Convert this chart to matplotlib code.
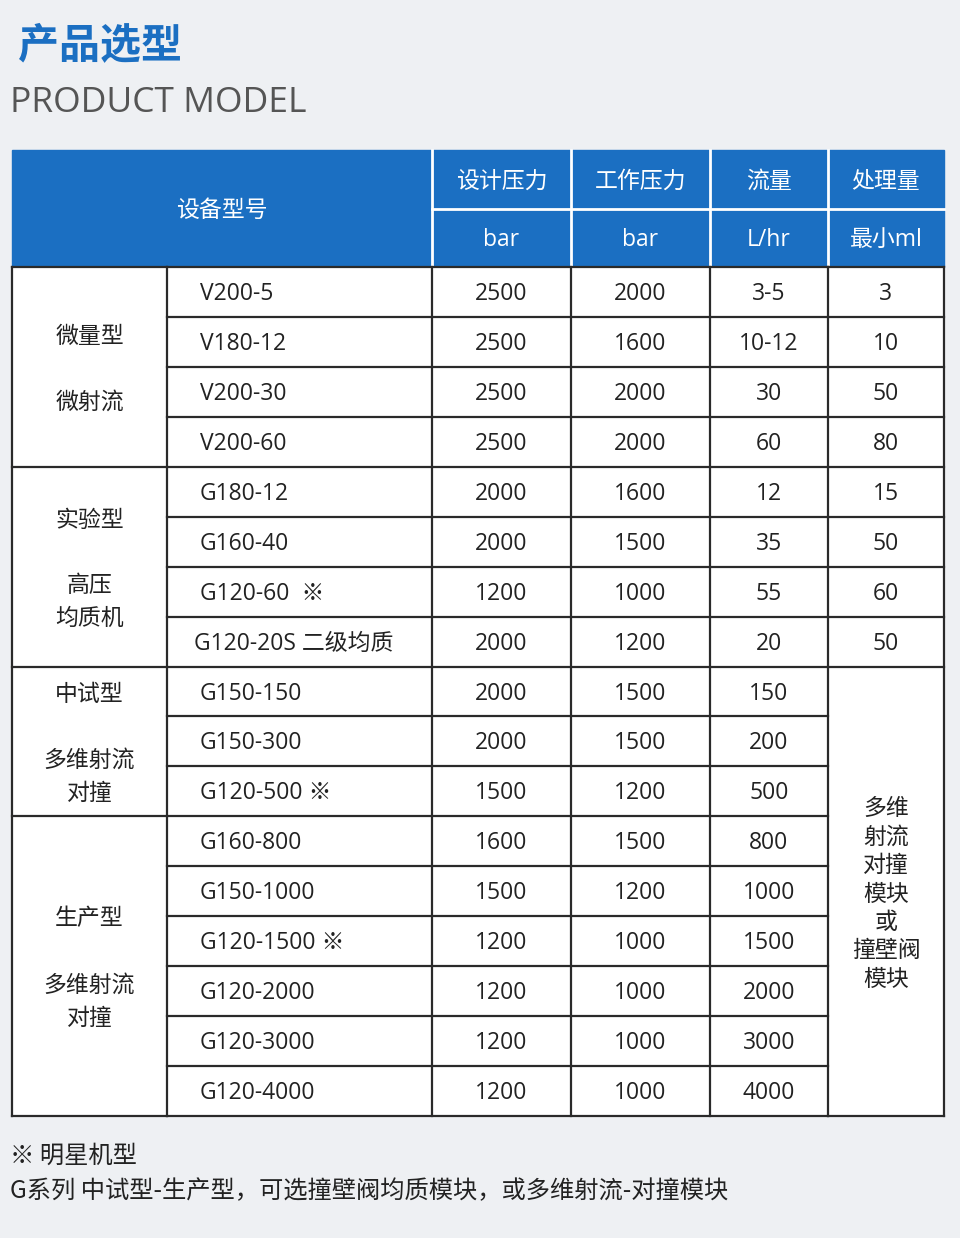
import matplotlib.pyplot as plt
from matplotlib.patches import Rectangle

plt.rcParams['font.family'] = ['Noto Sans CJK SC', 'DejaVu Sans']
LAT = ['Open Sans', 'Noto Sans CJK SC', 'DejaVu Sans']

models = ["V200-5", "V180-12", "V200-30", "V200-60",
          "G180-12", "G160-40", "G120-60  ※", "G120-20S 二级均质",
          "G150-150", "G150-300", "G120-500 ※",
          "G160-800", "G150-1000", "G120-1500 ※", "G120-2000", "G120-3000", "G120-4000"]
design_p = [2500, 2500, 2500, 2500, 2000, 2000, 1200, 2000, 2000, 2000, 1500,
            1600, 1500, 1200, 1200, 1200, 1200]
work_p = [2000, 1600, 2000, 2000, 1600, 1500, 1000, 1200, 1500, 1500, 1200,
          1500, 1200, 1000, 1000, 1000, 1000]
flow = ["3-5", "10-12", "30", "60", "12", "35", "55", "20", "150", "200", "500",
        "800", "1000", "1500", "2000", "3000", "4000"]
capacity = ["3", "10", "50", "80", "15", "50", "60", "50"]
capacity_merged = "多维\n射流\n对撞\n模块\n或\n撞壁阀\n模块"
# (first row, last row, label lines with y offsets in px)
groups = [(0, 3, [("微量型", 334), ("微射流", 400)]),
          (4, 7, [("实验型", 518), ("高压", 583), ("均质机", 616)]),
          (8, 10, [("中试型", 692), ("多维射流", 758), ("对撞", 791)]),
          (11, 16, [("生产型", 917), ("多维射流", 983), ("对撞", 1016)])]
header_top = ["设计压力", "工作压力", "流量", "处理量"]
header_bot = ["bar", "bar", "L/hr", "最小ml"]

W, H = 960, 1238
fig = plt.figure(figsize=(W / 100, H / 100), dpi=100)
ax = fig.add_axes([0, 0, 1, 1])
ax.set_xlim(0, W)
ax.set_ylim(H, 0)
ax.axis('off')
fig.patch.set_facecolor('#eef0f3')

blue = '#1b6fc2'
line = '#2a2a2a'
txt = '#222222'
fs = 16.5
xs = [12, 167, 432, 571, 710, 828, 944]
y0, yh, yb = 150, 209, 267
rows = len(models)
rh = (1116 - yb) / rows
ry = [yb + i * rh for i in range(rows + 1)]

# header
ax.add_patch(Rectangle((xs[0], y0), xs[-1] - xs[0], yb - y0, color=blue, zorder=1))
for x in xs[2:-1]:
    ax.plot([x, x], [y0, yb], color='white', lw=2, zorder=2)
ax.plot([xs[2], xs[-1]], [yh, yh], color='white', lw=2, zorder=2)
ax.text((xs[0] + xs[2]) / 2, (y0 + yb) / 2 + 2, "设备型号", color='white', fontsize=fs,
        ha='center', va='center')
for i in range(4):
    cx = (xs[i + 2] + xs[i + 3]) / 2
    ax.text(cx, (y0 + yh) / 2 + 2, header_top[i], color='white', fontsize=fs,
            ha='center', va='center')
    ax.text(cx, (yh + yb) / 2 + 2, header_bot[i], color='white', fontsize=fs,
            ha='center', va='center', family=LAT)

# body
ax.add_patch(Rectangle((xs[0], yb), xs[-1] - xs[0], ry[-1] - yb, color='white', zorder=1))
lw = 1.6
for i in range(rows + 1):
    ax.plot([xs[1], xs[5]], [ry[i], ry[i]], color=line, lw=lw, zorder=3)
for i in range(9):
    ax.plot([xs[5], xs[6]], [ry[i], ry[i]], color=line, lw=lw, zorder=3)
ax.plot([xs[5], xs[6]], [ry[-1], ry[-1]], color=line, lw=lw, zorder=3)
for g0, g1, _ in groups:
    ax.plot([xs[0], xs[1]], [ry[g0], ry[g0]], color=line, lw=lw, zorder=3)
ax.plot([xs[0], xs[1]], [ry[-1], ry[-1]], color=line, lw=lw, zorder=3)
for x in xs:
    ax.plot([x, x], [yb, ry[-1]], color=line, lw=lw, zorder=3)

for i in range(rows):
    cy = (ry[i] + ry[i + 1]) / 2 + 2
    mx = 194 if "二级" in models[i] else 200
    ax.text(mx, cy, models[i], fontsize=fs, color=txt, ha='left', va='center', family=LAT)
    for j, v in enumerate([design_p[i], work_p[i], flow[i]]):
        ax.text((xs[j + 2] + xs[j + 3]) / 2, cy, str(v), fontsize=fs, color=txt,
                ha='center', va='center', family=LAT)
    if i < len(capacity):
        ax.text((xs[5] + xs[6]) / 2, cy, capacity[i], fontsize=fs, color=txt,
                ha='center', va='center', family=LAT)
ax.text((xs[5] + xs[6]) / 2, 894, capacity_merged, fontsize=fs, color=txt,
        ha='center', va='center', linespacing=1.3)
for _, _, labels in groups:
    for lab, yy in labels:
        ax.text((xs[0] + xs[1]) / 2, yy + 2, lab, fontsize=fs, color=txt,
                ha='center', va='center')

# titles and notes
ax.text(18, 45, "产品选型", fontsize=29.5, fontweight='bold', color=blue, ha='left', va='center')
ax.text(10, 103, "PRODUCT MODEL", fontsize=25.5, color='#555555', ha='left', va='center',
        family=['Open Sans', 'DejaVu Sans'])
ax.text(10, 1156, "※ 明星机型", fontsize=17.5, color=txt, ha='left', va='center')
ax.text(10, 1191, "G系列 中试型-生产型，可选撞壁阀均质模块，或多维射流-对撞模块",
        fontsize=17.5, color=txt, ha='left', va='center')

fig.savefig('out.png', dpi=100, facecolor=fig.get_facecolor())
